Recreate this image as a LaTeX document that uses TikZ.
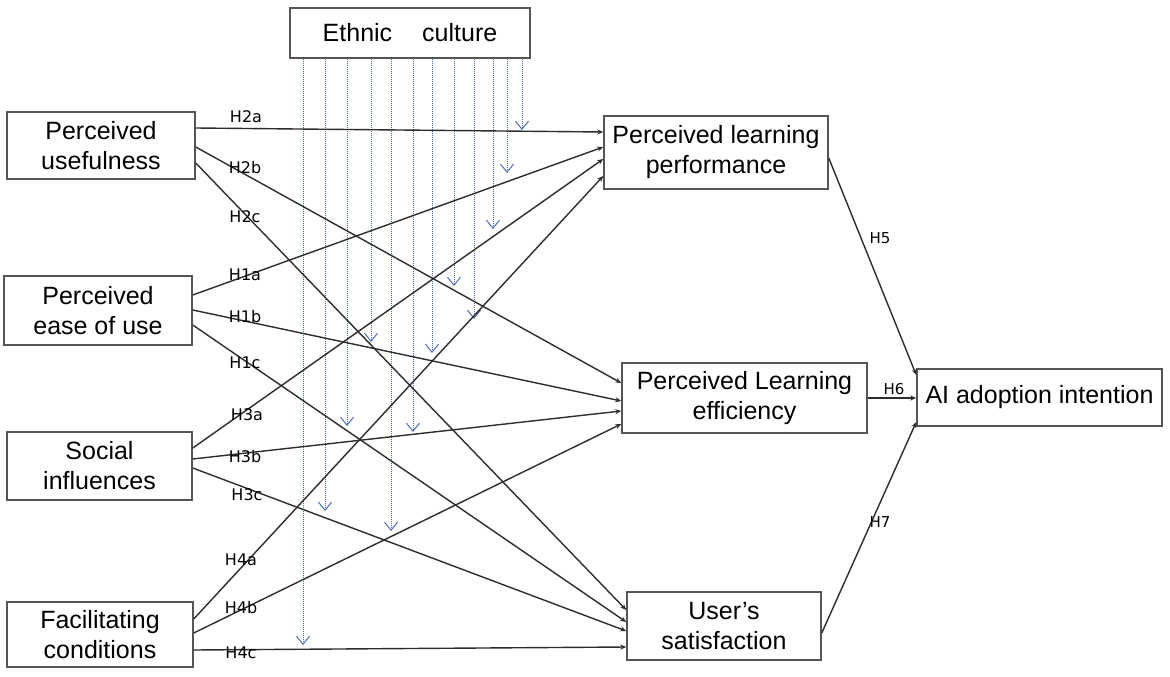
\documentclass[tikz,border=0pt]{standalone}
\usepackage{fontspec}
\setmainfont{Liberation Sans}
\newfontfamily\labfont{DejaVu Sans}
\usetikzlibrary{arrows.meta,calc}
\definecolor{boxgray}{RGB}{85,85,85}
\definecolor{conngray}{RGB}{45,45,45}
\definecolor{dotblue}{RGB}{75,108,190}
\begin{document}
\begin{tikzpicture}[x=1pt,y=-1pt,
  box/.style={draw=boxgray,line width=1.5pt,fill=white,inner sep=0pt,align=center,
    font=\fontsize{25}{30}\selectfont},
  conn/.style={draw=conngray,line width=1.4pt,-{Stealth[length=6pt,width=5pt]}},
  dotarr/.style={draw=dotblue,line width=1pt,dash pattern=on 1pt off 1pt,
    -{Straight Barb[length=8pt,width=13pt,line width=1pt]}},
  hlab/.style={inner sep=0pt,font=\labfont\fontsize{16}{19}\selectfont},
  hlabr/.style={inner sep=0pt,font=\labfont\fontsize{15}{18}\selectfont}]
\useasboundingbox (0,0) rectangle (1170,677);
\fill[white] (0,0) rectangle (1170,677);

% dotted moderating arrows (drawn first, behind everything)
\node[box,minimum width=240pt,minimum height=50pt] (ec) at (410,33) {Ethnic\hspace{30pt}culture};
\coordinate (d1) at (303,645);
\coordinate (d2) at (325,511);
\coordinate (d3) at (347,426);
\coordinate (d4) at (371,342);
\coordinate (d5) at (391,531);
\coordinate (d6) at (413,432);
\coordinate (d7) at (432,353);
\coordinate (d8) at (454,286);
\coordinate (d9) at (474,319);
\coordinate (d10) at (493,229);
\coordinate (d11) at (507,173);
\coordinate (d12) at (522,130);
\foreach \i in {1,...,12} \draw[dotarr] (ec.south -| d\i) -- (d\i);

% boxes
\node[box,minimum width=188pt,minimum height=67pt] (pu) at (101,145.5) {Perceived\\usefulness};
\node[box,minimum width=188pt,minimum height=69pt] (peou) at (98,310.5) {Perceived\\ease of use};
\node[box,minimum width=185pt,minimum height=68pt] (si) at (99.5,466) {Social\\influences};
\node[box,minimum width=186pt,minimum height=65pt] (fc) at (100,634.5) {Facilitating\\conditions};
\node[box,minimum width=224pt,minimum height=73pt] (plp) at (716,152.5) {Perceived learning\\performance};
\node[box,minimum width=245pt,minimum height=70pt] (ple) at (744.5,398) {Perceived Learning\\efficiency};
\node[box,minimum width=194pt,minimum height=68pt] (us) at (724,626) {User’s\\satisfaction};
\node[box,minimum width=245pt,minimum height=57pt] (ai) at (1039.5,397.5) {AI adoption intention};

% connectors
\draw[conn] ([yshift=17.5pt]pu.east) -- ([yshift=20.5pt]plp.west);
\draw[conn] ([yshift=-1.5pt]pu.east) -- ([yshift=15pt]ple.west);
\draw[conn] ([yshift=-17.5pt]pu.east) -- ([yshift=16pt]us.west);
\draw[conn] ([yshift=15.5pt]peou.east) -- ([yshift=5.5pt]plp.west);
\draw[conn] ([yshift=0.5pt]peou.east) -- ([yshift=-3pt]ple.west);
\draw[conn] ([yshift=-14.5pt]peou.east) -- ([yshift=4pt]us.west);
\draw[conn] ([yshift=18pt]si.east) -- ([yshift=-6.5pt]plp.west);
\draw[conn] ([yshift=7pt]si.east) -- ([yshift=-13pt]ple.west);
\draw[conn] ([yshift=-2pt]si.east) -- ([yshift=-5pt]us.west);
\draw[conn] ([yshift=15.5pt]fc.east) -- ([yshift=-23.5pt]plp.west);
\draw[conn] ([yshift=1.5pt]fc.east) -- ([yshift=-26pt]ple.west);
\draw[conn] ([yshift=-15.5pt]fc.east) -- ([yshift=-21pt]us.west);
\draw[conn] ([yshift=-5.5pt]plp.east) -- ([yshift=22.5pt]ai.west);
\draw[conn] (ple.east) -- (ple.east -| ai.west);
\draw[conn] ([yshift=-7pt]us.east) -- ([yshift=-24.5pt]ai.west);

% labels
\node[hlab] (l2a) at (246,117) {H2a};
\node[hlab] (l2b) at (245,168) {H2b};
\node[hlab] (l2c) at (245,217) {H2c};
\node[hlab] (l1a) at (245,275) {H1a};
\node[hlab] (l1b) at (245,317) {H1b};
\node[hlab] (l1c) at (245,363) {H1c};
\node[hlab] (l3a) at (247,415) {H3a};
\node[hlab] (l3b) at (245,457) {H3b};
\node[hlab] (l3c) at (247,495) {H3c};
\node[hlab] (l4a) at (241,560) {H4a};
\node[hlab] (l4b) at (241,608) {H4b};
\node[hlab] (l4c) at (241,653) {H4c};
\node[hlabr] (l5) at (880,238) {H5};
\node[hlabr] (l6) at (894,389) {H6};
\node[hlabr] (l7) at (880,522) {H7};
\end{tikzpicture}
\end{document}
